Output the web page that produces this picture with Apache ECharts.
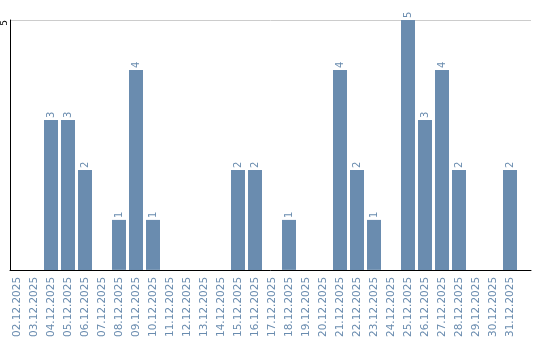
<!DOCTYPE html>
<html><head><meta charset="utf-8">
<script src="https://cdn.jsdelivr.net/npm/echarts@6/dist/echarts.min.js"></script>
<style>html,body{margin:0;padding:0;background:#fff}#c{width:540px;height:340px}</style>
</head><body><div id="c"></div>
<script>
var categories = ["02.12.2025","03.12.2025","04.12.2025","05.12.2025","06.12.2025","07.12.2025","08.12.2025","09.12.2025","10.12.2025","11.12.2025","12.12.2025","13.12.2025","14.12.2025","15.12.2025","16.12.2025","17.12.2025","18.12.2025","19.12.2025","20.12.2025","21.12.2025","22.12.2025","23.12.2025","24.12.2025","25.12.2025","26.12.2025","27.12.2025","28.12.2025","29.12.2025","30.12.2025","31.12.2025"];
var values = [0,0,3,3,2,0,1,4,1,0,0,0,0,2,2,0,1,0,0,4,2,1,0,5,3,4,2,0,0,2];
var yMax = 5;
var barColor = '#6a8caf';
var chart = echarts.init(document.getElementById('c'), null, {renderer:'canvas'});
chart.setOption({
  animation:false,
  grid:[
    {left:10, right:9, top:20, bottom:70},
    {left:8.5, right:21.5, top:20, bottom:70}
  ],
  xAxis:[
    {type:'value', gridIndex:0, min:0, max:1, axisLine:{show:true, lineStyle:{color:'#000', width:1}}, axisTick:{show:false}, axisLabel:{show:false}, splitLine:{show:false}},
    {type:'category', gridIndex:1, data:categories, axisLine:{show:false}, axisTick:{show:false},
     axisLabel:{interval:0, rotate:90, color:barColor, fontSize:10.5, fontFamily:'DejaVu Sans', margin:7}}
  ],
  yAxis:[
    {type:'value', gridIndex:0, min:0, max:yMax, interval:5, axisLine:{show:true, lineStyle:{color:'#000', width:1}}, axisTick:{show:false},
     axisLabel:{rotate:90, align:'right', verticalAlign:'middle', color:'#000', fontSize:9, fontFamily:'DejaVu Sans', margin:5, showMinLabel:false},
     splitLine:{show:true, lineStyle:{color:'#cccccc', width:1}}},
    {type:'value', gridIndex:1, min:0, max:yMax, show:false}
  ],
  series:[{
    type:'bar', xAxisIndex:1, yAxisIndex:1, data:values, barWidth:14,
    itemStyle:{color:barColor},
    label:{show:true, position:'top', rotate:90, align:'left', verticalAlign:'middle', distance:2,
      color:barColor, fontSize:10, fontFamily:'DejaVu Sans',
      formatter:function(p){return p.value ? String(p.value) : '';}}
  }]
});
</script></body></html>
